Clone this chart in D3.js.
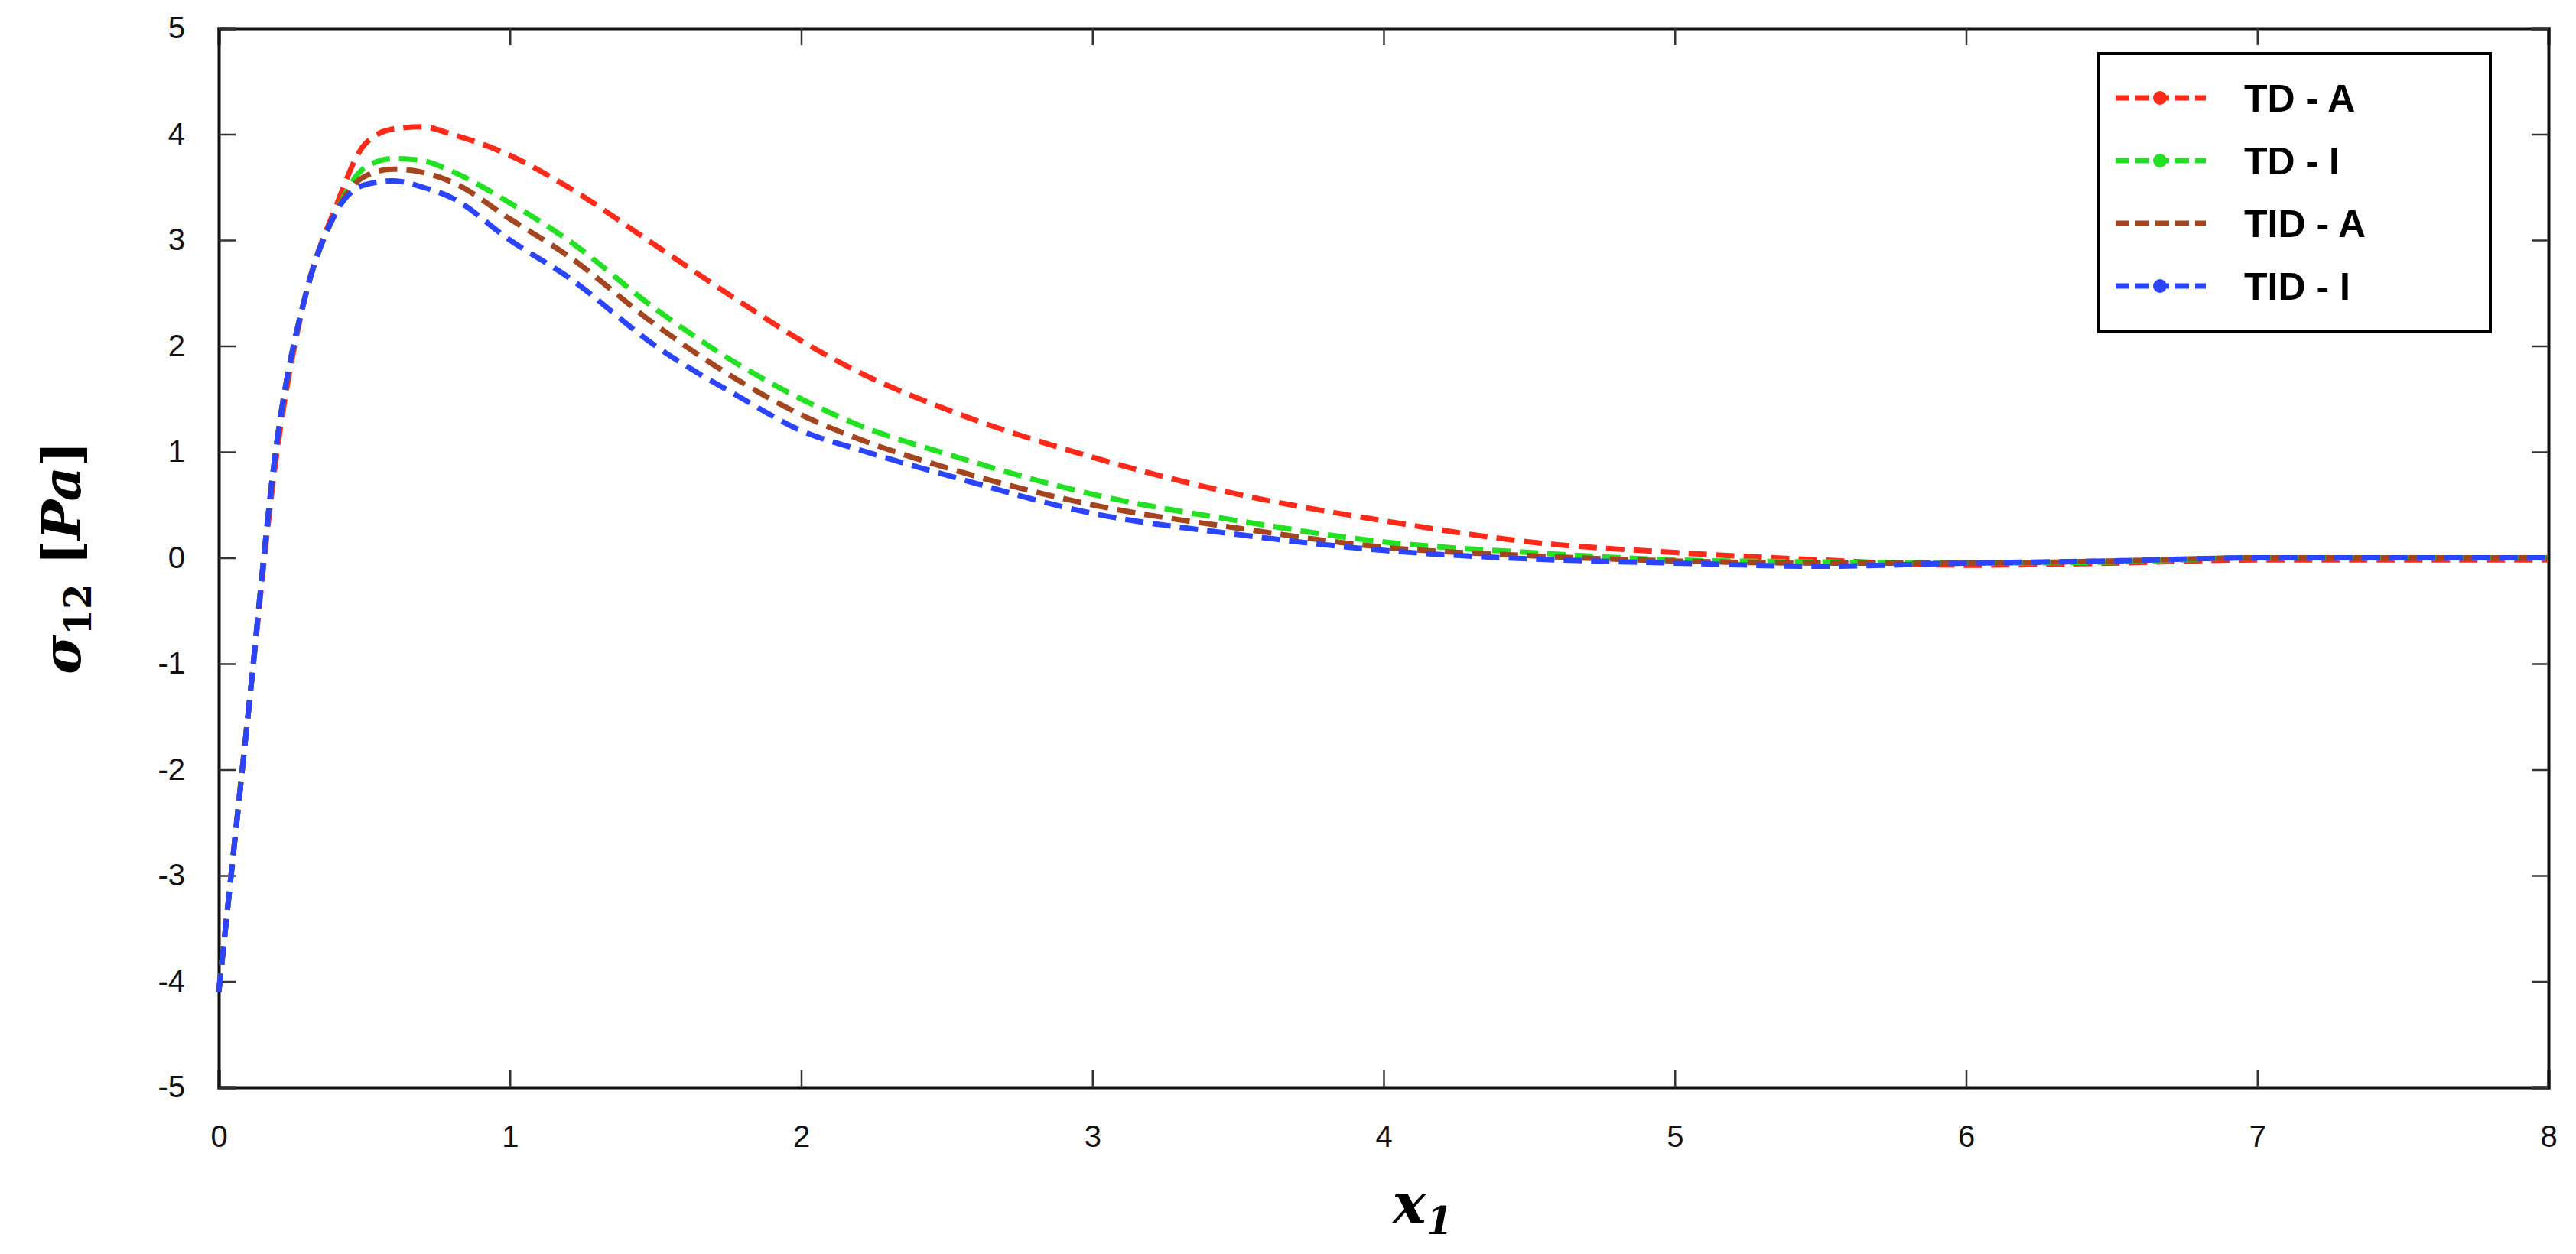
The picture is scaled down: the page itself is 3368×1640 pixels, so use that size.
<!DOCTYPE html>
<html><head><meta charset="utf-8">
<script src="https://d3js.org/d3.v7.min.js"></script>
<style>body{margin:0;background:#fff}</style>
</head><body>
<div class="vis"></div>
<script>
  // data
  var xs = [0, 0.1, 0.2, 0.3, 0.4, 0.5, 0.6, 0.7, 0.8, 1.0, 1.2, 1.5, 1.8, 2.0, 2.2, 2.5, 3.0, 3.5, 4.0, 4.5, 5.0, 5.5, 6.0, 6.5, 7.0, 7.5, 8.0];
  var tdA  = [-4.1, -1.5, 1.0, 2.5, 3.3, 3.9, 4.05, 4.07, 4.0, 3.8, 3.5, 2.95, 2.4, 2.05, 1.75, 1.4, 0.95, 0.6, 0.35, 0.15, 0.05, -0.02, -0.07, -0.05, -0.02, -0.02, -0.02];
  var tdI  = [-4.1, -1.5, 1.1, 2.5, 3.25, 3.68, 3.77, 3.75, 3.65, 3.35, 3.0, 2.35, 1.8, 1.5, 1.25, 0.98, 0.6, 0.35, 0.15, 0.05, -0.02, -0.04, -0.05, -0.04, 0.0, 0.0, 0.0];
  var tidA = [-4.1, -1.5, 1.1, 2.5, 3.25, 3.6, 3.67, 3.64, 3.55, 3.2, 2.85, 2.2, 1.65, 1.35, 1.12, 0.85, 0.5, 0.28, 0.1, 0.02, -0.03, -0.05, -0.05, -0.03, 0.0, 0.0, 0.0];
  var tidI = [-4.1, -1.5, 1.1, 2.5, 3.25, 3.52, 3.56, 3.5, 3.4, 3.0, 2.65, 2.0, 1.5, 1.2, 1.02, 0.78, 0.42, 0.22, 0.07, -0.01, -0.05, -0.08, -0.05, -0.03, 0.0, 0.0, 0.0];
  var seriesNames = ["TD - A", "TD - I", "TID - A", "TID - I"];
  var seriesColors = ["#ff2a1a", "#22e022", "#a4451f", "#2a44ff"];
  var seriesData = [tdA, tdI, tidA, tidI];
  var xTicks = [0, 1, 2, 3, 4, 5, 6, 7, 8];
  var yTicks = [-5, -4, -3, -2, -1, 0, 1, 2, 3, 4, 5];

  var W = 3368, H = 1640;
  var L = 286, R = 3332, T = 37, B = 1422;

  var svg = d3.select('.vis').append('svg')
    .attr('width', W).attr('height', H)
    .style('font-family', '"Liberation Sans", Arial, sans-serif');

  var x = d3.scaleLinear().domain([0, 8]).range([L, R]);
  var y = d3.scaleLinear().domain([-5, 5]).range([B, T]);
  var fmt = function (d) { return String(d); }; // plain hyphen minus

  // axes, ticks pointing inward
  svg.append('g').attr('transform', 'translate(0,' + B + ')')
    .call(d3.axisBottom(x).tickValues(xTicks).tickSize(-22).tickPadding(50).tickFormat(fmt));
  svg.append('g').attr('transform', 'translate(0,' + T + ')')
    .call(d3.axisTop(x).tickValues(xTicks).tickSize(-22).tickFormat(''));
  var ay = svg.append('g').attr('transform', 'translate(' + L + ',0)')
    .call(d3.axisLeft(y).tickValues(yTicks).tickSize(-22).tickPadding(44).tickFormat(fmt));
  svg.append('g').attr('transform', 'translate(' + R + ',0)')
    .call(d3.axisRight(y).tickValues(yTicks).tickSize(-22).tickFormat(''));
  svg.selectAll('.domain').attr('stroke', '#111').attr('stroke-width', 4);
  svg.selectAll('.tick line').attr('stroke', '#333').attr('stroke-width', 2.5);
  svg.selectAll('.tick text').attr('font-size', 40).attr('fill', '#111').attr('font-family', '"Liberation Sans", Arial, sans-serif');
  ay.selectAll('.tick text').attr('text-anchor', 'end');

  // curves
  var line = d3.line()
    .x(function (d) { return x(d[0]); })
    .y(function (d) { return y(d[1]); })
    .curve(d3.curveMonotoneX);

  seriesData.forEach(function (vals, i) {
    svg.append('path')
      .datum(xs.map(function (v, j) { return [v, vals[j]]; }))
      .attr('d', line)
      .attr('fill', 'none')
      .attr('stroke', seriesColors[i])
      .attr('stroke-width', 7)
      .attr('stroke-dasharray', '24,12');
  });

  // axis titles
  svg.append('text')
    .attr('x', 1860).attr('y', 1600)
    .attr('text-anchor', 'middle')
    .attr('font-family', '"DejaVu Serif", serif').attr('font-style', 'italic').attr('font-weight', 'bold')
    .attr('font-size', 74)
    .html('x<tspan font-size="50" dy="14">1</tspan>');
  svg.append('text')
    .attr('transform', 'translate(105,' + ((T + B) / 2) + ') rotate(-90)')
    .attr('text-anchor', 'middle')
    .attr('font-family', '"DejaVu Serif", serif').attr('font-weight', 'bold')
    .attr('font-size', 70)
    .html('<tspan font-style="italic">σ</tspan><tspan font-size="48" dy="14">12</tspan><tspan dy="-14"> [</tspan><tspan font-style="italic">Pa</tspan>]');

  // legend
  var lg = svg.append('g').attr('transform', 'translate(2744,70)');
  lg.append('rect').attr('width', 512).attr('height', 364)
    .attr('fill', '#fff').attr('stroke', '#000').attr('stroke-width', 4);
  seriesNames.forEach(function (name, i) {
    var yy = 58 + i * 82;
    lg.append('line').attr('x1', 22).attr('x2', 140).attr('y1', yy).attr('y2', yy)
      .attr('stroke', seriesColors[i]).attr('stroke-width', 7).attr('stroke-dasharray', '18,8');
    if (i !== 2) lg.append('circle').attr('cx', 80).attr('cy', yy).attr('r', 9).attr('fill', seriesColors[i]);
    lg.append('text').attr('x', 190).attr('y', yy + 18)
      .attr('font-size', 50).attr('font-weight', 'bold').text(name);
  });
</script>
</body></html>
